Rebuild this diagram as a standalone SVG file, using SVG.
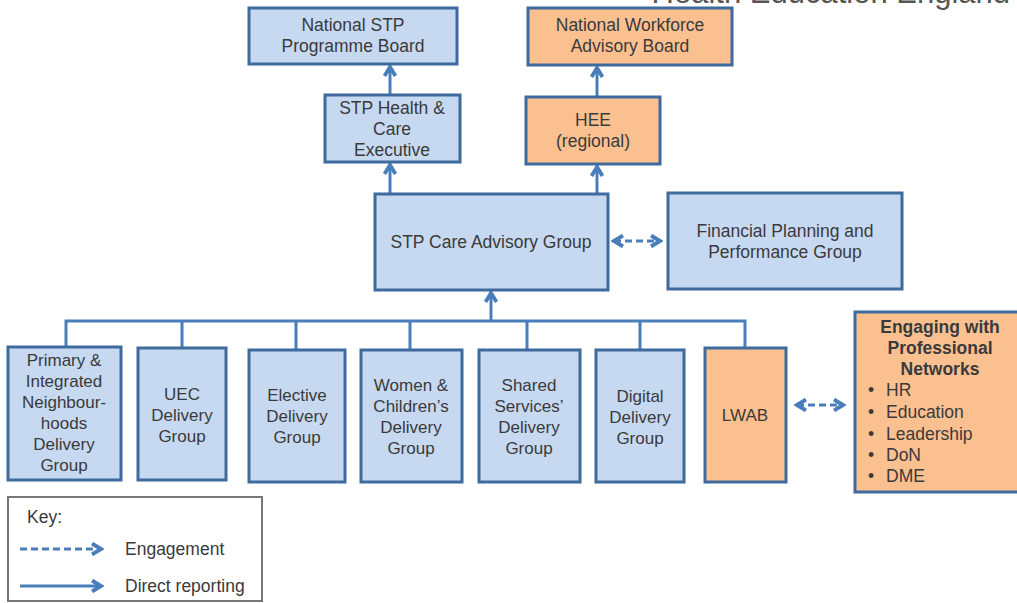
<svg xmlns="http://www.w3.org/2000/svg" width="1017" height="603" viewBox="0 0 1017 603">
<style>
.b{fill:#c6d9f1;stroke:#3e6a9e;stroke-width:3}
.o{fill:#fac090;stroke:#3e6a9e;stroke-width:3}
text{font-family:"Liberation Sans",Arial,sans-serif;font-size:17.5px;fill:#3a3a3a;text-anchor:middle}
.s{font-size:17px}
.l{text-anchor:start}
.c{stroke:#4a7ebb;stroke-width:3;fill:none}
.d{stroke-dasharray:7,4}
</style>
<defs>
<marker id="ah" viewBox="0 0 10 10" refX="8" refY="5" markerWidth="4.6" markerHeight="4.6" orient="auto-start-reverse" markerUnits="strokeWidth">
<path d="M1.5,1 L8,5 L1.5,9" fill="none" stroke="#4a7ebb" stroke-width="2.8" stroke-linejoin="miter"/>
</marker>
</defs>
<text x="1010" y="3" style="font-size:31px;fill:#555;text-anchor:end">Health Education England</text>
<g id="connectors">
<path class="c" d="M390,193 V165" marker-end="url(#ah)"/>
<path class="c" d="M390,94 V67" marker-end="url(#ah)"/>
<path class="c" d="M597,193 V167" marker-end="url(#ah)"/>
<path class="c" d="M597,96 V68" marker-end="url(#ah)"/>
<path class="c" d="M491,321 V293" marker-end="url(#ah)"/>
<path class="c" d="M66,347 V321 H745 V348"/>
<path class="c" d="M182,321 V348 M296,321 V350 M410,321 V350 M527,321 V350 M640,321 V350"/>
<path class="c d" d="M614,241 H660" marker-start="url(#ah)" marker-end="url(#ah)"/>
<path class="c d" d="M797,405 H843" marker-start="url(#ah)" marker-end="url(#ah)"/>
</g>
<g id="n1"><rect class="b" x="249" y="8" width="208" height="56"/><text x="353" y="31">National STP</text><text x="353" y="52">Programme Board</text></g>
<g id="n2"><rect class="o" x="528" y="8" width="204" height="57"/><text x="630" y="31">National Workforce</text><text x="630" y="52">Advisory Board</text></g>
<g id="n3"><rect class="b" x="325" y="95" width="135" height="67"/><text x="392" y="114">STP Health &amp;</text><text x="392" y="135">Care</text><text x="392" y="156">Executive</text></g>
<g id="n4"><rect class="o" x="526" y="97" width="134" height="67"/><text x="593" y="126">HEE</text><text x="593" y="147">(regional)</text></g>
<g id="n5"><rect class="b" x="375" y="194" width="233" height="96"/><text x="491" y="248">STP Care Advisory Group</text></g>
<g id="n6"><rect class="b" x="668" y="193" width="234" height="96"/><text x="785" y="237">Financial Planning and</text><text x="785" y="258">Performance Group</text></g>
<g id="n7" class="s"><rect class="b" x="8" y="347" width="113" height="133"/><text class="s" x="64" y="366">Primary &amp;</text><text class="s" x="64" y="387">Integrated</text><text class="s" x="64" y="408">Neighbour-</text><text class="s" x="64" y="429">hoods</text><text class="s" x="64" y="450">Delivery</text><text class="s" x="64" y="471">Group</text></g>
<g id="n8"><rect class="b" x="138" y="348" width="88" height="132"/><text class="s" x="182" y="400">UEC</text><text class="s" x="182" y="421">Delivery</text><text class="s" x="182" y="442">Group</text></g>
<g id="n9"><rect class="b" x="249" y="350" width="96" height="132"/><text class="s" x="297" y="401">Elective</text><text class="s" x="297" y="422">Delivery</text><text class="s" x="297" y="443">Group</text></g>
<g id="n10"><rect class="b" x="361" y="350" width="101" height="132"/><text class="s" x="411" y="391">Women &amp;</text><text class="s" x="411" y="412">Children’s</text><text class="s" x="411" y="433">Delivery</text><text class="s" x="411" y="454">Group</text></g>
<g id="n11"><rect class="b" x="479" y="350" width="101" height="132"/><text class="s" x="529" y="391">Shared</text><text class="s" x="529" y="412">Services’</text><text class="s" x="529" y="433">Delivery</text><text class="s" x="529" y="454">Group</text></g>
<g id="n12"><rect class="b" x="596" y="350" width="88" height="132"/><text class="s" x="640" y="402">Digital</text><text class="s" x="640" y="423">Delivery</text><text class="s" x="640" y="444">Group</text></g>
<g id="n13"><rect class="o" x="705" y="348" width="81" height="134"/><text class="s" x="745" y="421">LWAB</text></g>
<g id="n14"><rect class="o" x="855" y="312" width="170" height="180"/>
<text x="940" y="333" style="font-weight:bold">Engaging with</text><text x="940" y="354" style="font-weight:bold">Professional</text><text x="940" y="375" style="font-weight:bold">Networks</text>
<text class="l" x="868" y="396">•</text><text class="l" x="886" y="396">HR</text>
<text class="l" x="868" y="418">•</text><text class="l" x="886" y="418">Education</text>
<text class="l" x="868" y="440">•</text><text class="l" x="886" y="440">Leadership</text>
<text class="l" x="868" y="461">•</text><text class="l" x="886" y="461">DoN</text>
<text class="l" x="868" y="482">•</text><text class="l" x="886" y="482">DME</text></g>
<g id="key"><rect x="8" y="497" width="254" height="104" fill="#fff" stroke="#777" stroke-width="2"/>
<text class="l" x="27" y="523">Key:</text>
<path class="c d" d="M20,549 H101" marker-end="url(#ah)"/>
<text class="l" x="125" y="555">Engagement</text>
<path class="c" d="M20,586 H101" marker-end="url(#ah)"/>
<text class="l" x="125" y="592">Direct reporting</text></g>
</svg>
